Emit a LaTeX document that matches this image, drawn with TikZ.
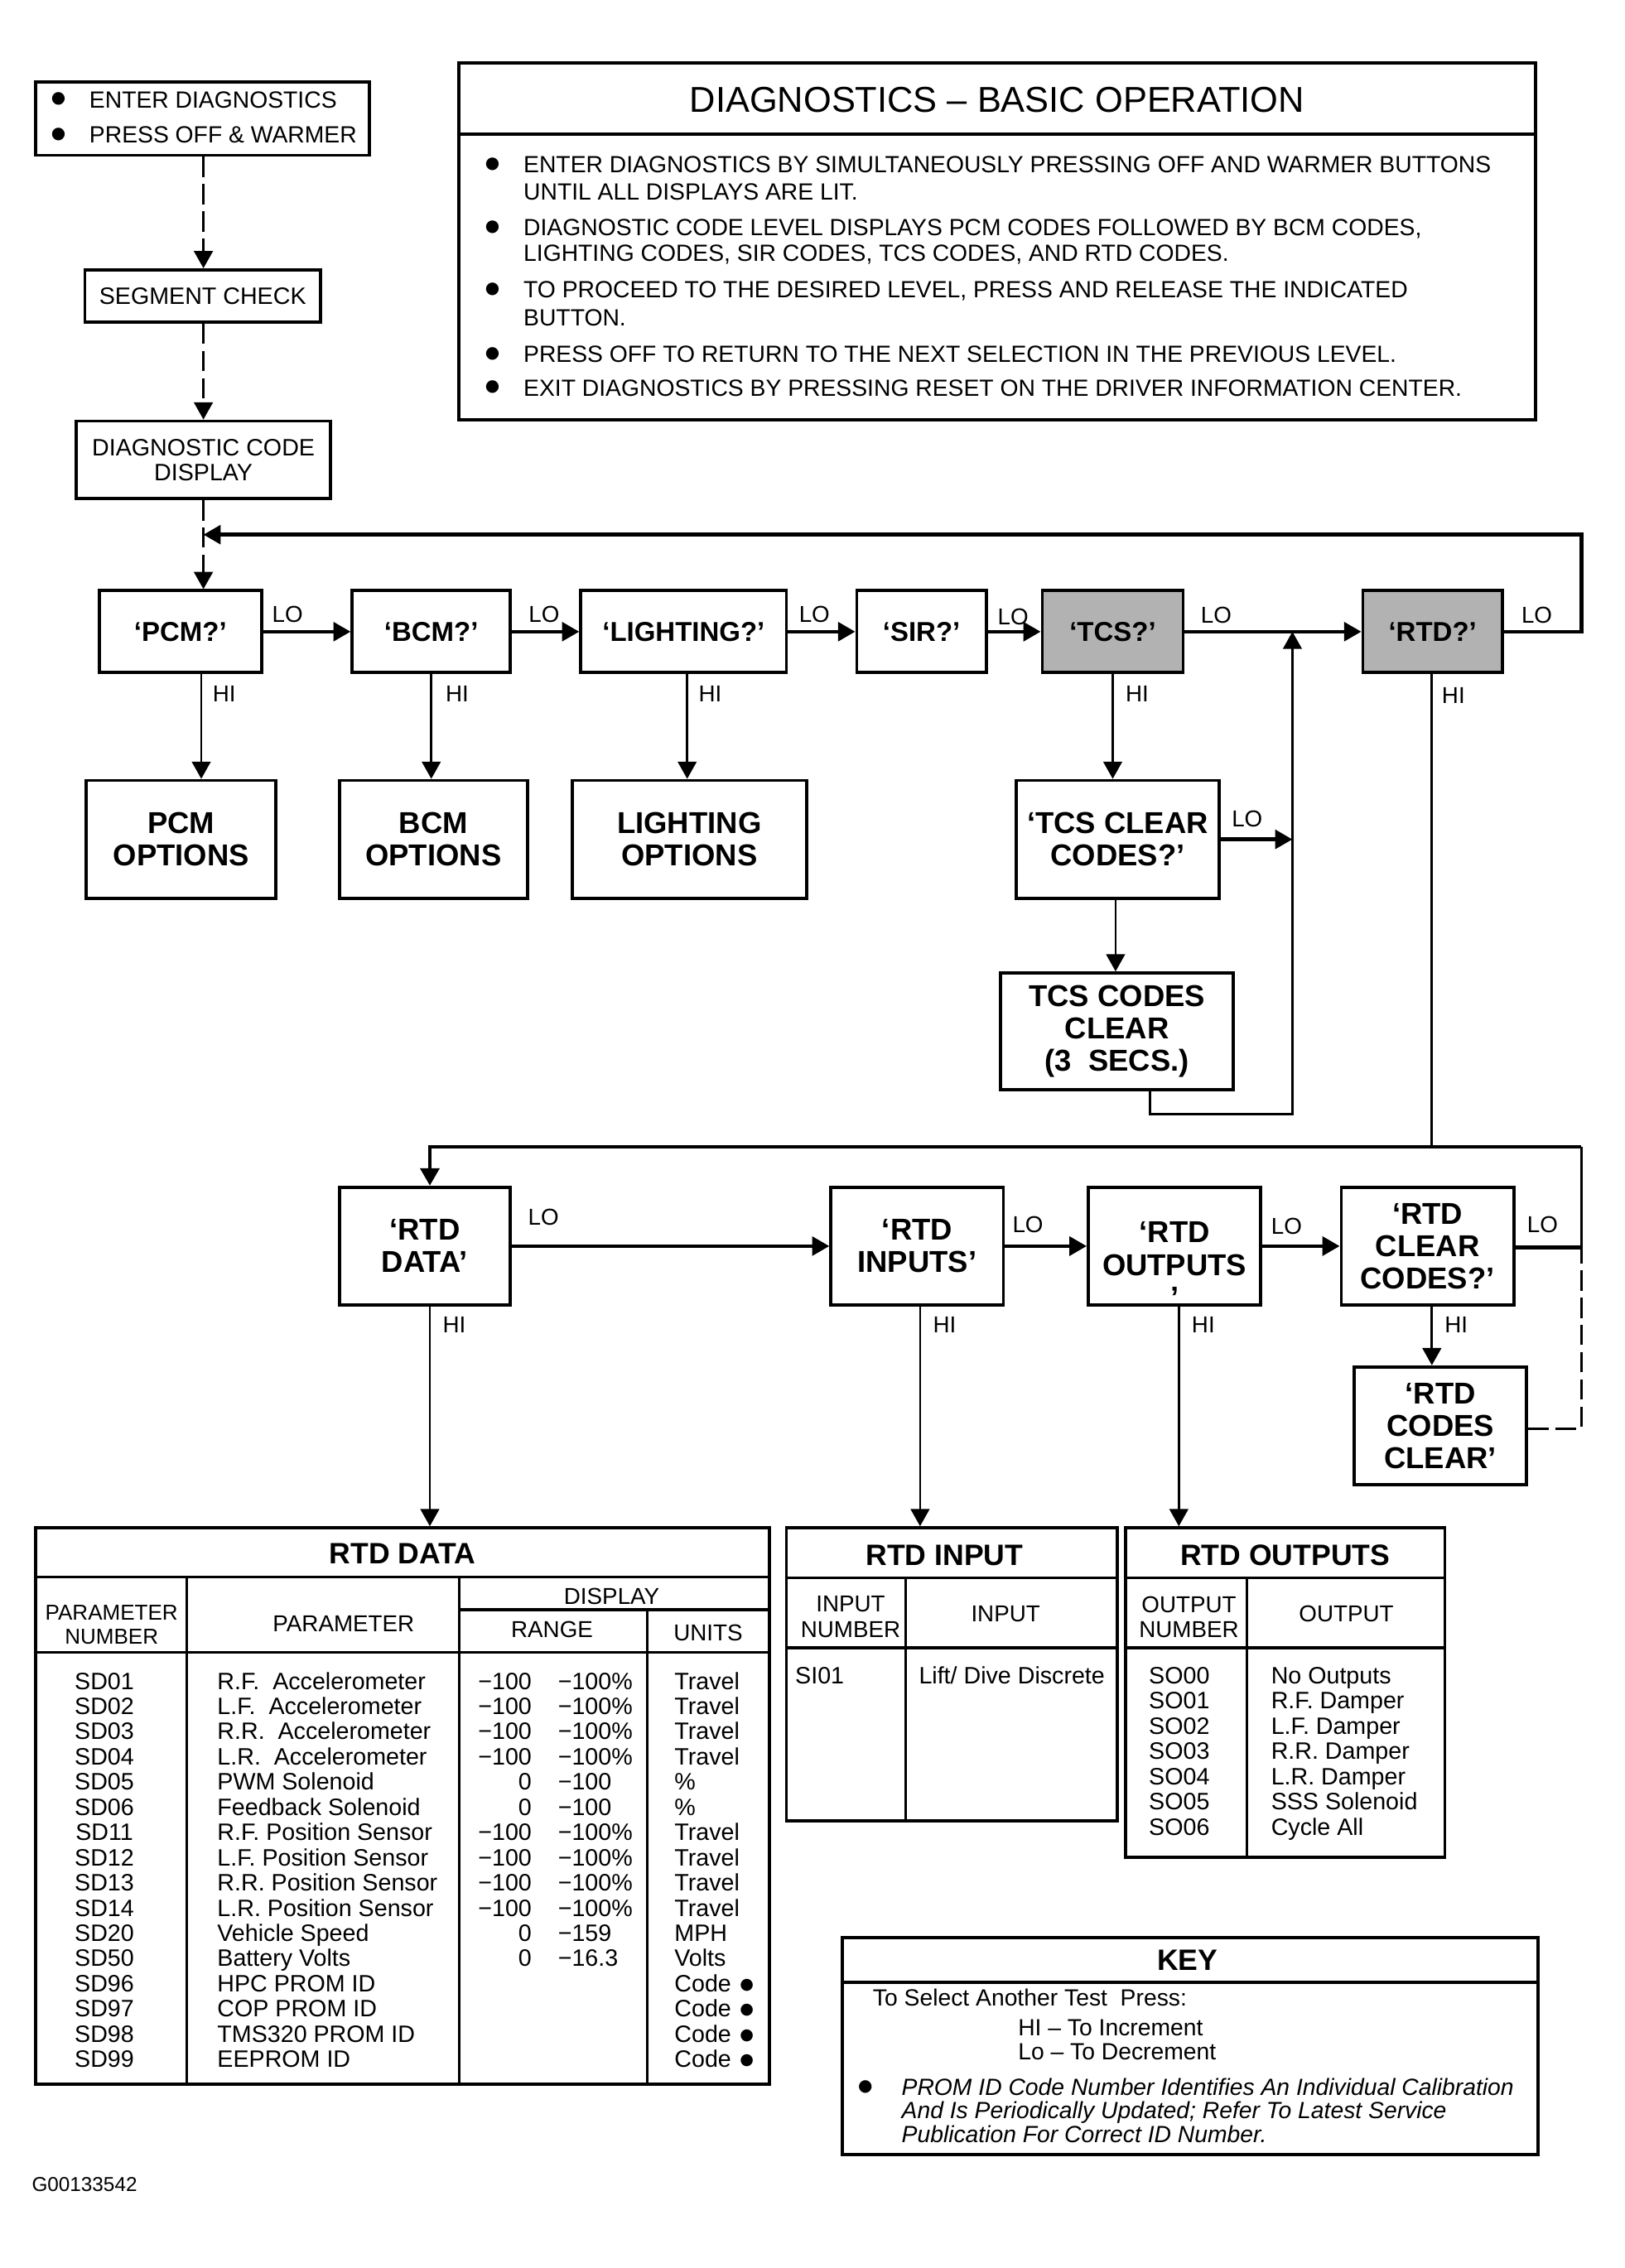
\documentclass[tikz,border=0pt]{standalone}
\usepackage{fontspec}
\setmainfont{Liberation Sans}
\newfontfamily\symfont{DejaVu Sans}
\usetikzlibrary{arrows.meta}
\newcommand{\setfs}[2]{\fontsize{#1}{#2}\selectfont}
\begin{document}
\begin{tikzpicture}[x=1pt,y=-1pt,
 bx/.style={draw, line width=2.2pt, inner sep=0pt, align=center},
 qbox/.style={bx, font=\bfseries\setfs{19}{20}},
 obox/.style={bx, font=\bfseries\setfs{21}{22.5}},
 grayfill/.style={fill=black!30},
 txt/.style={inner sep=0pt, font=\setfs{16.3}{17.5}},
 bul/.style={inner sep=0pt, font=\symfont\setfs{11.5}{12}},
 rtxt/.style={inner sep=0pt, font=\setfs{16.5}{17.5}},
 hdr/.style={inner sep=0pt, align=center, font=\setfs{16}{17.5}},
 ttl/.style={inner sep=0pt, font=\bfseries\setfs{20.5}{22}},
 btxt/.style={inner sep=0pt, align=center, font=\bfseries\setfs{21}{22.5}},
 lbl/.style={inner sep=0pt, font=\setfs{16}{17}},
 arw/.style={-{Triangle[length=12pt,width=13pt]}},
 thk/.style={line width=2.6pt},
 thn/.style={line width=1.6pt},
 dsh/.style={line width=1.8pt, dash pattern=on 14pt off 5pt},
 tline/.style={line width=1.8pt},
]
\useasboundingbox (0,0) rectangle (1130,1578);

% ---------- top left chain ----------
\node[bx, minimum width=232pt, minimum height=51pt] (topbox) at (141,82.5) {};
\node[bul] (tbb1) at (40.7,69) {●};
\node[bul] (tbb2) at (40.7,93.3) {●};
\node[txt, anchor=base west] (tb1) at (62,74.9) {ENTER DIAGNOSTICS};
\node[txt, anchor=base west] (tb2) at (62,99.2) {PRESS OFF \& WARMER};
\node[bx, font=\setfs{16.5}{17.5}, minimum width=164pt, minimum height=36.5pt] (seg) at (141,206) {SEGMENT CHECK};
\node[bx, font=\setfs{16.5}{17.5}, minimum width=177pt, minimum height=54pt] (diag) at (141.5,320) {DIAGNOSTIC CODE\\DISPLAY};

\coordinate (xA) at (141.5,0);
\coordinate (xP) at (140,0);
\coordinate (xB) at (300,0);
\coordinate (xL) at (478,0);
\coordinate (xT) at (774,0);
\coordinate (xT2) at (776,0);
\coordinate (jx) at (899,439.5);
\coordinate (fbR) at (1100,439.5);
\coordinate (fbT) at (1100,372);
\coordinate (fbL) at (141.5,372);

% ---------- header box ----------
\node[bx, minimum width=749pt, minimum height=248pt] (hdrbox) at (693.5,168) {};
\draw[line width=2.2pt] (319,93.5) -- (1068,93.5);
\node[inner sep=0pt, font=\setfs{25}{26}] (hdrtitle) at (693.5,69.5) {DIAGNOSTICS – BASIC OPERATION};
\node[bul] (hb1) at (342.5,114) {●};
\node[bul] (hb2) at (342.5,158) {●};
\node[bul] (hb3) at (342.5,201.5) {●};
\node[bul] (hb4) at (342.5,246) {●};
\node[bul] (hb5) at (342.5,269.5) {●};
\node[txt, anchor=base west] (hl1) at (364,119.9) {ENTER DIAGNOSTICS BY SIMULTANEOUSLY PRESSING OFF AND WARMER BUTTONS};
\node[txt, anchor=base west] (hl2) at (364,139.4) {UNTIL ALL DISPLAYS ARE LIT.};
\node[txt, anchor=base west] (hl3) at (364,163.9) {DIAGNOSTIC CODE LEVEL DISPLAYS PCM CODES FOLLOWED BY BCM CODES,};
\node[txt, anchor=base west] (hl4) at (364,181.9) {LIGHTING CODES, SIR CODES, TCS CODES, AND RTD CODES.};
\node[txt, anchor=base west] (hl5) at (364,207.4) {TO PROCEED TO THE DESIRED LEVEL, PRESS AND RELEASE THE INDICATED};
\node[txt, anchor=base west] (hl6) at (364,226.9) {BUTTON.};
\node[txt, anchor=base west] (hl7) at (364,251.9) {PRESS OFF TO RETURN TO THE NEXT SELECTION IN THE PREVIOUS LEVEL.};
\node[txt, anchor=base west] (hl8) at (364,275.4) {EXIT DIAGNOSTICS BY PRESSING RESET ON THE DRIVER INFORMATION CENTER.};

% ---------- row 1 ----------
\node[qbox, minimum width=113pt, minimum height=57pt] (pcm) at (125.5,439.5) {‘PCM?’};
\node[qbox, minimum width=110pt, minimum height=57pt] (bcm) at (300,439.5) {‘BCM?’};
\node[qbox, minimum width=143pt, minimum height=57pt] (light) at (475.5,439.5) {‘LIGHTING?’};
\node[qbox, minimum width=90pt, minimum height=57pt] (sir) at (641,439.5) {‘SIR?’};
\node[qbox, grayfill, minimum width=98pt, minimum height=57pt] (tcs) at (774,439.5) {‘TCS?’};
\node[qbox, grayfill, minimum width=97pt, minimum height=57pt] (rtd) at (996.5,439.5) {‘RTD?’};

% ---------- row 2 ----------
\node[obox, minimum width=132pt, minimum height=82pt] (pcmopt) at (126,584) {PCM\\OPTIONS};
\node[obox, minimum width=131pt, minimum height=82pt] (bcmopt) at (301.5,584) {BCM\\OPTIONS};
\node[obox, minimum width=163pt, minimum height=82pt] (lightopt) at (479.5,584) {LIGHTING\\OPTIONS};
\node[obox, minimum width=141pt, minimum height=82pt] (tcsclr) at (777.5,584) {‘TCS CLEAR\\CODES?’};
\node[obox, minimum width=162pt, minimum height=81pt] (tcscc) at (777,717.5) {TCS CODES\\CLEAR\\(3\ \ SECS.)};

% ---------- row 3 ----------
\node[obox, minimum width=119pt, minimum height=82pt] (rtddata) at (295.5,867) {‘RTD\\DATA’};
\node[obox, minimum width=120pt, minimum height=82pt] (rtdin) at (638,867) {‘RTD\\INPUTS’};
\node[obox, minimum width=120pt, minimum height=82pt] (rtdout) at (817,867) {};
\node[btxt] (rtdoutT) at (817,880) {‘RTD\\OUTPUTS\\’};
\node[obox, minimum width=120pt, minimum height=82pt] (rtdclr) at (993,867) {‘RTD\\CLEAR\\CODES?’};
\node[obox, minimum width=120pt, minimum height=82pt] (rtdcc) at (1002,992) {‘RTD\\CODES\\CLEAR’};

\coordinate (hiJ) at (996,798);
\coordinate (hiL) at (299,798);
\coordinate (hiR) at (1100,798);
\coordinate (clrR) at (1100,868);
\coordinate (ccR) at (1100,994);
\coordinate (xIn) at (640,0);
\coordinate (xOut) at (820,0);
\coordinate (ret1) at (800,775);

% ---------- tables ----------
\node[bx, minimum width=510pt, minimum height=387pt] (datatab) at (280,1256.5) {};
\node[bx, minimum width=230pt, minimum height=204pt] (intab) at (662,1165) {};
\node[bx, minimum width=222pt, minimum height=229pt] (outtab) at (894,1177.5) {};
\node[bx, minimum width=484pt, minimum height=151pt] (keybox) at (828,1423.5) {};

% ---------- connectors ----------
\draw[dsh, arw] (topbox.south -| xA) -- (seg.north -| xA);
\draw[dsh, arw] (seg.south -| xA) -- (diag.north -| xA);
\draw[dsh, arw] (diag.south -| xA) -- (pcm.north -| xA);
\draw[thk, arw] (rtd.east) -- (fbR) -- (fbT) -- (fbL);

\draw[thk, arw] (pcm.east) -- (bcm.west);
\draw[thk, arw] (bcm.east) -- (light.west);
\draw[thk, arw] (light.east) -- (sir.west);
\draw[thk, arw] (sir.east) -- (tcs.west);
\draw[thk, arw] (tcs.east) -- (rtd.west);

\draw[thn, arw] (pcm.south -| xP) -- (pcmopt.north -| xP);
\draw[thn, arw] (bcm.south -| xB) -- (bcmopt.north -| xB);
\draw[thn, arw] (light.south -| xL) -- (lightopt.north -| xL);
\draw[thn, arw] (tcs.south -| xT) -- (tcsclr.north -| xT);
\draw[thn, arw] (tcsclr.south -| xT2) -- (tcscc.north -| xT2);
\draw[thk, arw] (tcsclr.east) -- (tcsclr.east -| jx);
\draw[thn, arw] (tcscc.south -| ret1) -- (ret1) -- (ret1 -| jx) -- (jx);

\draw[thn] (rtd.south -| hiJ) -- (hiJ);
\draw[thk, arw] (hiR) -- (hiL) -- (rtddata.north -| hiL);
\draw[thn] (hiR) -- (clrR);
\draw[thk] (rtdclr.east |- clrR) -- (clrR);
\draw[dsh] (rtdcc.east |- ccR) -- (ccR) -- (clrR);

\draw[thk, arw] (rtddata.east) -- (rtdin.west);
\draw[thk, arw] (rtdin.east) -- (rtdout.west);
\draw[thk, arw] (rtdout.east) -- (rtdclr.west);

\draw[thn, arw] (rtddata.south -| hiL) -- (datatab.north -| hiL);
\draw[thn, arw] (rtdin.south -| xIn) -- (intab.north -| xIn);
\draw[thn, arw] (rtdout.south -| xOut) -- (outtab.north -| xOut);
\draw[thn, arw] (rtdclr.south -| hiJ) -- (rtdcc.north -| hiJ);

% ---------- LO / HI labels ----------
\node[lbl] (lo1) at (200,427.5) {LO};
\node[lbl] (lo2) at (378.5,427.5) {LO};
\node[lbl] (lo3) at (566.5,427.5) {LO};
\node[lbl] (lo4) at (704.7,429) {LO};
\node[lbl] (lo5) at (846,428) {LO};
\node[lbl] (lo6) at (1069,428) {LO};
\node[lbl] (lo7) at (867.5,570) {LO};
\node[lbl] (lo8) at (378,847) {LO};
\node[lbl] (lo9) at (715,852) {LO};
\node[lbl] (lo10) at (895,853) {LO};
\node[lbl] (lo11) at (1073,852) {LO};
\node[lbl] (hi1) at (156,483) {HI};
\node[lbl] (hi2) at (318,483) {HI};
\node[lbl] (hi3) at (494,483) {HI};
\node[lbl] (hi4) at (791,483) {HI};
\node[lbl] (hi5) at (1011,484) {HI};
\node[lbl] (hi6) at (316,922) {HI};
\node[lbl] (hi7) at (657,922) {HI};
\node[lbl] (hi8) at (837,922) {HI};
\node[lbl] (hi9) at (1013,922) {HI};

% ---------- RTD DATA table ----------
\draw[tline] (25,1097) -- (535,1097);
\draw[tline] (25,1149.5) -- (535,1149.5);
\draw[tline] (319.5,1120) -- (535,1120);
\draw[tline] (130,1097) -- (130,1450);
\draw[tline] (319.5,1097) -- (319.5,1450);
\draw[tline] (450,1120) -- (450,1450);
\node[ttl] (datattl) at (280,1081) {RTD DATA};
\node[hdr, font=\setfs{15}{17}] (dh1) at (77.6,1130.5) {PARAMETER\\NUMBER};
\node[hdr] (dh2) at (239,1130) {PARAMETER};
\node[hdr] (dh3) at (425.5,1111) {DISPLAY};
\node[hdr] (dh4) at (384,1134) {RANGE};
\node[hdr] (dh5) at (492.6,1136) {UNITS};

\foreach \n/\p/\a/\b/\u [count=\i from 0] in {
 SD01/R.F.\ \ Accelerometer/−100/−100\%/Travel,
 SD02/L.F.\ \ Accelerometer/−100/−100\%/Travel,
 SD03/R.R.\ \ Accelerometer/−100/−100\%/Travel,
 SD04/L.R.\ \ Accelerometer/−100/−100\%/Travel,
 SD05/PWM Solenoid/0/−100/\%,
 SD06/Feedback Solenoid/0/−100/\%,
 SD11/R.F. Position Sensor/−100/−100\%/Travel,
 SD12/L.F. Position Sensor/−100/−100\%/Travel,
 SD13/R.R. Position Sensor/−100/−100\%/Travel,
 SD14/L.R. Position Sensor/−100/−100\%/Travel,
 SD20/Vehicle Speed/0/−159/MPH,
 SD50/Battery Volts/0/−16.3/Volts}{
 \pgfmathsetmacro\yy{1169.5+\i*17.54+5.8}
 \node[rtxt, anchor=base] (num\i) at (72.6,\yy) {\n};
 \node[rtxt, anchor=base west] (par\i) at (151,\yy) {\p};
 \node[rtxt, anchor=base east] (ra\i) at (370,\yy) {\a};
 \node[rtxt, anchor=base west] (rb\i) at (388,\yy) {\b};
 \node[rtxt, anchor=base west] (un\i) at (469,\yy) {\u};
}
\foreach \n/\p [count=\i from 12] in {
 SD96/HPC PROM ID, SD97/COP PROM ID, SD98/TMS320 PROM ID, SD99/EEPROM ID}{
 \pgfmathsetmacro\yy{1169.5+\i*17.54+5.8}
 \node[rtxt, anchor=base] (num\i) at (72.6,\yy) {\n};
 \node[rtxt, anchor=base west] (par\i) at (151,\yy) {\p};
 \node[rtxt, anchor=base west] (un\i) at (469,\yy) {Code\hspace{6pt}\raisebox{1.8pt}{\symfont\setfs{11}{12}●}};
}

% ---------- RTD INPUT table ----------
\draw[tline] (547,1098) -- (777,1098);
\draw[tline] (547,1146.5) -- (777,1146.5);
\draw[tline] (630,1098) -- (630,1267);
\node[ttl] (inttl) at (657,1082) {RTD INPUT};
\node[hdr] (ih1) at (591.7,1125) {INPUT\\NUMBER};
\node[hdr] (ih2) at (699.5,1123) {INPUT};
\node[rtxt, anchor=base west] (in1) at (553,1171.3) {SI01};
\node[rtxt, anchor=base west] (in2) at (639,1171.3) {Lift/ Dive Discrete};

% ---------- RTD OUTPUTS table ----------
\draw[tline] (783,1098) -- (1005,1098);
\draw[tline] (783,1146.5) -- (1005,1146.5);
\draw[tline] (867.5,1098) -- (867.5,1292);
\node[ttl] (outttl) at (894,1082) {RTD OUTPUTS};
\node[hdr] (oh1) at (827,1125) {OUTPUT\\NUMBER};
\node[hdr] (oh2) at (936.5,1123) {OUTPUT};
\foreach \n/\p [count=\i from 0] in {
 SO00/No Outputs, SO01/R.F. Damper, SO02/L.F. Damper, SO03/R.R. Damper,
 SO04/L.R. Damper, SO05/SSS Solenoid, SO06/Cycle All}{
 \pgfmathsetmacro\yy{1165.5+\i*17.6+5.8}
 \node[rtxt, anchor=base west] (onum\i) at (799,\yy) {\n};
 \node[rtxt, anchor=base west] (oname\i) at (884,\yy) {\p};
}

% ---------- KEY ----------
\draw[line width=2.2pt] (586,1379) -- (1070,1379);
\node[ttl] (keyttl) at (826,1364) {KEY};
\node[txt, anchor=base west] (k1) at (607,1395.7) {To Select Another Test\ \ Press:};
\node[txt, anchor=base west] (k2) at (708,1416.2) {HI – To Increment};
\node[txt, anchor=base west] (k3) at (708,1433.3) {Lo – To Decrement};
\node[bul] (kb) at (602,1452) {●};
\node[txt, font=\itshape\setfs{16.3}{17.5}, anchor=base west] (k4) at (627,1457.7) {PROM ID Code Number Identifies An Individual Calibration};
\node[txt, font=\itshape\setfs{16.3}{17.5}, anchor=base west] (k5) at (627,1474.2) {And Is Periodically Updated; Refer To Latest Service};
\node[txt, font=\itshape\setfs{16.3}{17.5}, anchor=base west] (k6) at (627,1490.7) {Publication For Correct ID Number.};

% ---------- figure id ----------
\node[inner sep=0pt, font=\setfs{14}{15}, anchor=west] (figid) at (22,1520) {G00133542};
\end{tikzpicture}
\end{document}
